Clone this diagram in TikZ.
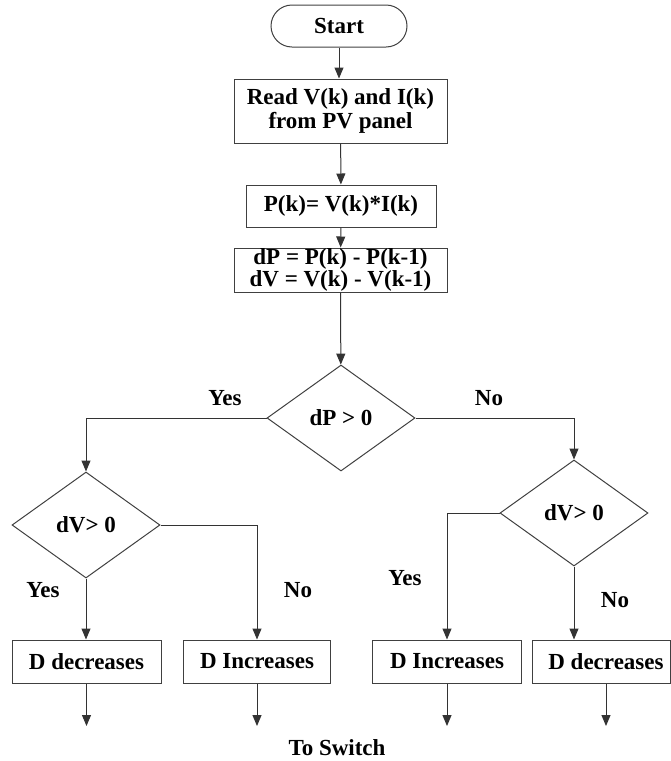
\documentclass[tikz,border=0pt]{standalone}
\usepackage{fontspec}
\setmainfont{Liberation Serif}
\usetikzlibrary{shapes.geometric,arrows.meta}
\begin{document}
\begin{tikzpicture}[x=1pt,y=-1pt,
  every node/.style={font=\fontsize{23}{24}\selectfont\bfseries, text=black},
  proc/.style={draw=black!75, line width=1pt, inner sep=0pt, align=center},
  dec/.style={draw=black!75, line width=1pt, diamond, inner sep=0pt, minimum width=148pt, minimum height=106pt},
  arr/.style={draw=black!80, line width=1pt, -{Triangle[length=11pt,width=9pt]}}
]
\useasboundingbox (0,0) rectangle (671,761);
\node[proc, rounded corners=21pt, minimum width=136pt, minimum height=42pt] (start) at (339,26) {Start};
\node[proc, minimum width=213pt, minimum height=64pt] (read) at (340.5,111) {Read V(k) and I(k)\\from PV panel};
\node[proc, minimum width=190pt, minimum height=42pt] (pk) at (341,206) {P(k)= V(k)*I(k)};
\node[proc, minimum width=213pt, minimum height=44pt, font=\fontsize{23}{22}\selectfont\bfseries] (dp) at (340.5,270) {dP = P(k) - P(k-1)\\dV = V(k) - V(k-1)};
\node[dec] (d1) at (341,418) {dP > 0};
\node[dec] (d2) at (86,525) {dV> 0};
\node[dec] (d3) at (574,513) {dV> 0};
\node[proc, minimum width=149pt, minimum height=43pt] (b1) at (86.5,661.5) {D decreases};
\node[proc, minimum width=147pt, minimum height=43pt] (b2) at (257,661.5) {D Increases};
\node[proc, minimum width=149pt, minimum height=43pt] (b3) at (447,661.5) {D Increases};
\node[proc, minimum width=138pt, minimum height=43pt] (b4) at (601,661.5) {\hspace*{10pt}D decreases};
\coordinate (o1) at (86.5,726);
\coordinate (o2) at (257,726);
\coordinate (o3) at (447,726);
\coordinate (o4) at (606,726);
\draw[arr] (start.south) -- (start.south |- read.north);
\draw[arr] (read) -- (pk);
\draw[arr] (pk) -- (dp);
\draw[arr] (dp) -- (d1);
\draw[arr] (d1.west) -| (d2.north);
\draw[arr] (d1.east) -| (d3.north);
\draw[arr] (d2.south) -- (d2.south |- b1.north);
\draw[arr] (d2.east) -| (b2.north);
\draw[arr] (d3.west) -| (b3.north);
\draw[arr] (d3.south) -- (d3.south |- b4.north);
\draw[arr] (b1.south) -- (o1);
\draw[arr] (b2.south) -- (o2);
\draw[arr] (b3.south) -- (o3);
\draw[arr] ([xshift=5pt]b4.south) -- (o4);
\node (y1) at (225,398) {Yes};
\node (n1) at (489,398) {No};
\node (y2) at (43,590) {Yes};
\node (n2) at (298,590) {No};
\node (y3) at (405,578) {Yes};
\node (n3) at (615,600) {No};
\node (sw) at (337,748) {To Switch};
\end{tikzpicture}
\end{document}
